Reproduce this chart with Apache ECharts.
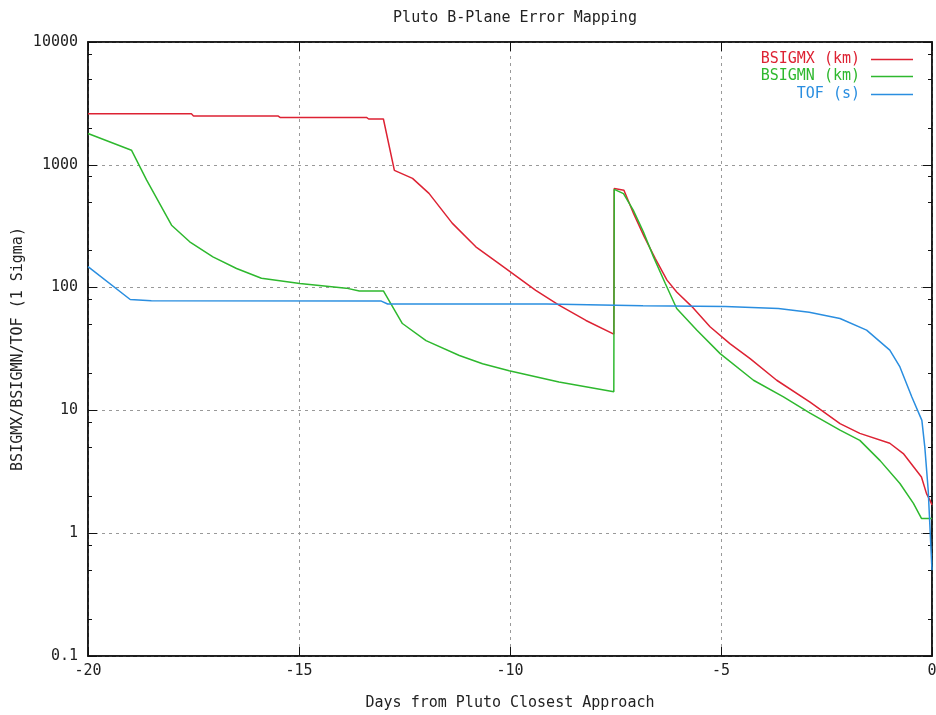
<!DOCTYPE html>
<html>
<head>
<meta charset="utf-8">
<script src="https://cdn.jsdelivr.net/npm/echarts@6/dist/echarts.min.js"></script>
<style>
  html, body { margin: 0; padding: 0; background: #fff; }
  #chart { width: 936px; height: 715px; }
</style>
</head>
<body>
<div id="chart"></div>
<script>
// days from closest approach / sigma values
const mxDays = [-20, -17.55, -17.5, -15.5, -15.45, -13.4, -13.35, -13.0, -12.74, -12.31, -11.92, -11.37, -10.81, -10.26, -9.39, -8.84, -8.2, -7.54, -7.53, -7.3, -7.07, -6.82, -6.56, -6.28, -6.05, -5.69, -5.26, -4.79, -4.31, -3.68, -2.89, -2.18, -1.71, -1.0, -0.68, -0.25, -0.13, -0.05, 0]
const mxVals = [2600, 2600, 2500, 2500, 2430, 2430, 2360, 2360, 900, 775, 585, 335, 215, 157, 95, 72, 54, 41.8, 640, 620, 400, 260, 173, 115, 92, 70, 48, 35, 26.4, 17.6, 11.7, 7.8, 6.5, 5.4, 4.45, 2.87, 2.1, 1.86, 1.7]

const mnDays = [-20, -18.97, -18.61, -18.02, -17.59, -17.04, -16.48, -15.89, -14.98, -13.88, -13.57, -13.0, -12.55, -11.99, -11.2, -10.65, -10.02, -8.84, -7.54, -7.53, -7.31, -7.08, -6.84, -6.6, -6.32, -6.05, -5.57, -5.02, -4.23, -3.52, -2.89, -2.18, -1.71, -1.23, -0.76, -0.44, -0.25, 0]
const mnVals = [1800, 1315, 750, 322, 236, 178, 143, 119, 108, 99, 94, 94, 51, 37, 28, 24, 21, 17, 14.2, 630, 582, 427, 285, 178, 108, 67.6, 45, 29, 17.6, 12.9, 9.5, 6.9, 5.7, 3.9, 2.54, 1.75, 1.32, 1.32]

const tofDays = [-20, -19.0, -18.5, -13.05, -12.9, -9.13, -9.1, -6.85, -4.9, -3.64, -2.91, -2.18, -1.55, -1.0, -0.76, -0.48, -0.24, -0.17, -0.09, 0]
const tofVals = [148, 80, 78, 77.6, 73.5, 73.5, 72, 71, 70, 67.6, 63, 56, 45, 31, 22.6, 12.9, 8.3, 5.0, 2.24, 0.5]

const seriesNames = ['BSIGMX (km)', 'BSIGMN (km)', 'TOF (s)']
const seriesColors = ['#dd2233', '#2eb82e', '#2a8ee0']
const yMinorTicks = [0.2, 0.5, 0.8, 2, 5, 8, 20, 50, 80, 200, 500, 800, 2000, 5000, 8000]

const FONT = 'DejaVu Sans Mono'
const chart = echarts.init(document.getElementById('chart'))
const zip = (xs, ys) => xs.map((x, i) => [x, ys[i]])
const fmt = v => String(Number(Number(v).toPrecision(6)))

const lineSeries = (i, xs, ys) => ({
  name: seriesNames[i],
  type: 'line',
  data: zip(xs, ys),
  showSymbol: false,
  symbol: 'none',
  lineStyle: { color: seriesColors[i], width: 1.5 },
  itemStyle: { color: seriesColors[i] },
  z: 5
})

const legendAt = (i, top) => ({
  data: [seriesNames[i]],
  right: 18,
  top: top,
  align: 'right',
  icon: 'rect',
  itemWidth: 42,
  itemHeight: 1.5,
  textStyle: { color: seriesColors[i], fontFamily: FONT, fontSize: 15, padding: [0, 6, 0, 0] }
})

const gridBox = { left: 88, right: 4, top: 42, bottom: 59, outerBoundsMode: 'none', containLabel: false }

const yBase = { type: 'log', logBase: 10, min: 0.1, max: 10000 }
const border = { show: true, onZero: false, lineStyle: { color: '#111', width: 1.5 } }
const majorTick = { show: true, inside: true, length: 9, lineStyle: { color: '#111' } }

// second grid on the same rect carries only the short minor ticks
const minorY = (pos) => Object.assign({}, yBase, {
  gridIndex: 1,
  position: pos,
  axisLine: { show: false, onZero: false },
  axisTick: { show: true, inside: true, length: 4, customValues: yMinorTicks, lineStyle: { color: '#111' } },
  axisLabel: { show: false },
  splitLine: { show: false }
})

chart.setOption({
  animation: false,
  backgroundColor: '#fff',
  title: {
    text: 'Pluto B-Plane Error Mapping',
    left: 510,
    top: 6,
    textAlign: 'center',
    textStyle: { fontFamily: FONT, fontSize: 15, fontWeight: 'normal', color: '#222' }
  },
  legend: [legendAt(0, 47), legendAt(1, 64), legendAt(2, 82)],
  grid: [
    Object.assign({ show: true, borderColor: '#111', borderWidth: 1.5 }, gridBox),
    Object.assign({ show: false }, gridBox)
  ],
  xAxis: [
    {
      type: 'value',
      gridIndex: 0,
      min: -20, max: 0, interval: 5,
      position: 'bottom',
      name: 'Days from Pluto Closest Approach',
      nameLocation: 'middle',
      nameGap: 40,
      nameTextStyle: { fontFamily: FONT, fontSize: 15, color: '#222' },
      axisLine: border,
      axisTick: majorTick,
      axisLabel: { fontFamily: FONT, fontSize: 15, color: '#222', margin: 8 },
      splitLine: { show: true, lineStyle: { color: '#999', type: [3, 4], width: 1 } }
    },
    {
      type: 'value',
      gridIndex: 0,
      min: -20, max: 0, interval: 5,
      position: 'top',
      axisLine: border,
      axisTick: majorTick,
      axisLabel: { show: false },
      splitLine: { show: false }
    },
    {
      type: 'value',
      gridIndex: 1,
      min: -20, max: 0,
      show: false
    }
  ],
  yAxis: [
    Object.assign({}, yBase, {
      gridIndex: 0,
      position: 'left',
      name: 'BSIGMX/BSIGMN/TOF (1 Sigma)',
      nameLocation: 'middle',
      nameGap: 62,
      nameMoveOverlap: false,
      nameRotate: 90,
      nameTextStyle: { fontFamily: FONT, fontSize: 15, color: '#222' },
      axisLine: border,
      axisTick: majorTick,
      axisLabel: { fontFamily: FONT, fontSize: 15, color: '#222', margin: 10, formatter: fmt },
      splitLine: { show: true, lineStyle: { color: '#999', type: [3, 4], width: 1 } }
    }),
    Object.assign({}, yBase, {
      gridIndex: 0,
      position: 'right',
      axisLine: border,
      axisTick: majorTick,
      axisLabel: { show: false },
      splitLine: { show: false }
    }),
    minorY('left'),
    minorY('right')
  ],
  series: [
    lineSeries(0, mxDays, mxVals),
    lineSeries(1, mnDays, mnVals),
    lineSeries(2, tofDays, tofVals)
  ]
})
</script>
</body>
</html>
